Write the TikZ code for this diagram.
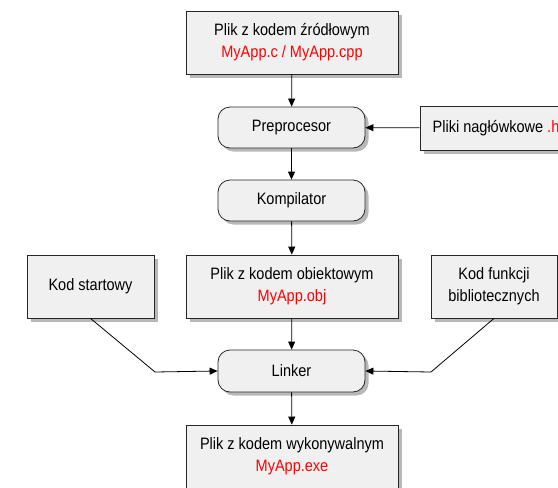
\documentclass[tikz,border=0pt]{standalone}
\usepackage{fontspec}
\setmainfont{Liberation Sans}[FakeStretch=0.88]
\usetikzlibrary{arrows.meta,shadows}

\begin{document}
\begin{tikzpicture}[x=1pt,y=-1pt,line width=0.8pt,
  font=\fontsize{16.5}{22}\selectfont,
  cien/.style={drop shadow={shadow xshift=3.5pt,shadow yshift=-3.5pt,fill=black!28,opacity=1}},
  plik/.style={draw=black!85,fill=gray!12,cien,align=center,inner sep=0pt,minimum height=63pt},
  proces/.style={plik,rounded corners=12pt,minimum width=147pt,minimum height=41pt},
  strzalka/.style={-{Triangle[length=8pt,width=7pt]},black}]
\useasboundingbox (0,0) rectangle (558,488);

\node[plik,minimum width=212pt] (zrodlo) at (292,42.5) {Plik z kodem źródłowym\\\textcolor{red}{MyApp.c / MyApp.cpp}};
\node[proces] (prep) at (291.5,127.5) {Preprocesor};
\node[plik,minimum width=152pt,minimum height=44pt] (naglowki) at (496,128) {Pliki nagłówkowe \textcolor{red}{.h}};
\node[proces] (komp) at (291.5,200.5) {Kompilator};
\node[plik,minimum width=212pt] (obiekt) at (292,286.5) {Plik z kodem obiektowym\\\textcolor{red}{MyApp.obj}};
\node[plik,minimum width=127pt] (start) at (90.5,286.5) {Kod startowy};
\node[plik,minimum width=126pt] (biblio) at (494,286.5) {Kod funkcji\\bibliotecznych};
\node[proces,minimum height=42pt] (linker) at (291.5,371) {Linker};
\node[plik,minimum width=212pt] (exe) at (292,456.5) {Plik z kodem wykonywalnym\\\textcolor{red}{MyApp.exe}};

\coordinate (kolano1) at (155,372);
\coordinate (kolano2) at (431,372);

\draw[strzalka] (zrodlo) -- (prep);
\draw[strzalka] (prep) -- (komp);
\draw[strzalka] (komp) -- (obiekt);
\draw[strzalka] (obiekt) -- (linker);
\draw[strzalka] (linker) -- (exe);
\draw[strzalka] (naglowki) -- (prep);
\draw[strzalka] (start.south) -- (kolano1) -- (linker.west);
\draw[strzalka] (biblio.south) -- (kolano2) -- (linker.east);
\end{tikzpicture}
\end{document}
